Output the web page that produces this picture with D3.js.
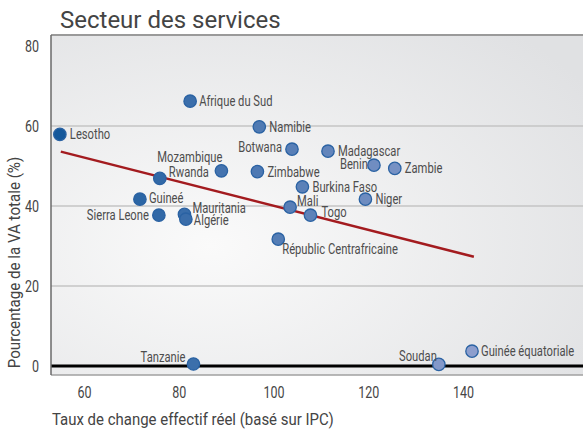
<!DOCTYPE html>
<html>
<head>
<meta charset="utf-8">
<script src="https://cdn.jsdelivr.net/npm/d3@7"></script>
<style>
  html, body { margin: 0; padding: 0; background: #fff; }
  svg { display: block; }
  text { font-family: "Roboto", "Liberation Sans", sans-serif; }
</style>
</head>
<body>
<svg id="chart" width="583" height="432"></svg>
<script>
// ---- Data ----
const countries = ["Afrique du Sud","Lesotho","Namibie","Botwana","Madagascar","Benin","Zambie",
  "Zimbabwe","Mozambique","Rwanda","Burkina Faso","Niger","Guineé","Mali","Togo","Sierra Leone",
  "Mauritania","Algérie","Républic Centrafricaine","Tanzanie","Soudan","Guinée équatoriale"];
const reer = [82.4, 54.9, 97.0, 103.9, 111.5, 121.2, 125.6, 96.6, 89.0, 76.0, 106.1, 119.4,
  71.8, 103.5, 107.8, 75.8, 81.2, 81.5, 101.0, 83.1, 134.9, 141.9];
const servicesShare = [66.2, 57.9, 59.8, 54.2, 53.7, 50.2, 49.4, 48.6, 48.8, 46.9, 44.8, 41.7,
  41.7, 39.7, 37.7, 37.7, 37.9, 36.7, 31.7, 0.5, 0.4, 3.7];
const trendX = [55.1, 142.3];
const trendY = [53.6, 27.3];
const xTicks = [60, 80, 100, 120, 140];
const yTicks = [0, 20, 40, 60, 80];
const gridValues = [20, 40, 60];

// ---- Label placement (layout only) ----
const labelPlace = {
  "Afrique du Sud": {dx: 9, dy: 0, anchor: "start"},
  "Lesotho": {dx: 10, dy: 0, anchor: "start"},
  "Namibie": {dx: 10, dy: 0, anchor: "start"},
  "Botwana": {dx: -10, dy: -2, anchor: "end"},
  "Madagascar": {dx: 10, dy: 0, anchor: "start"},
  "Benin": {dx: -6, dy: -1, anchor: "end"},
  "Zambie": {dx: 10, dy: 0, anchor: "start"},
  "Zimbabwe": {dx: 10, dy: 0, anchor: "start"},
  "Mozambique": {dx: 1, dy: -14, anchor: "end"},
  "Rwanda": {dx: 9, dy: -6, anchor: "start"},
  "Burkina Faso": {dx: 10, dy: 0, anchor: "start"},
  "Niger": {dx: 10, dy: 0, anchor: "start"},
  "Guineé": {dx: 9, dy: -1, anchor: "start"},
  "Mali": {dx: 7, dy: -6, anchor: "start"},
  "Togo": {dx: 11, dy: -3, anchor: "start"},
  "Sierra Leone": {dx: -10, dy: 0, anchor: "end"},
  "Mauritania": {dx: 8, dy: -6, anchor: "start"},
  "Algérie": {dx: 8, dy: 1, anchor: "start"},
  "Républic Centrafricaine": {dx: 4, dy: 10, anchor: "start"},
  "Tanzanie": {dx: -8, dy: -7, anchor: "end"},
  "Soudan": {dx: -2, dy: -8, anchor: "end"},
  "Guinée équatoriale": {dx: 9, dy: 0, anchor: "start"}
};

// emulate a condensed face by compressing glyphs horizontally
function condense(sel, f) {
  sel.each(function () {
    const L = this.getComputedTextLength();
    d3.select(this).attr("textLength", (L * f).toFixed(2)).attr("lengthAdjust", "spacingAndGlyphs");
  });
}

const svg = d3.select("#chart");
const plot = {left: 51, top: 35, right: 583, bottom: 375};

const x = d3.scaleLinear().domain([53.03, 165.33]).range([plot.left, plot.right]);
const y = d3.scaleLinear().domain([-2.25, 82.75]).range([plot.bottom, plot.top]);
const color = d3.scaleLinear().domain([55, 142]).range(["#15589b", "#8d9ecd"]).interpolate(d3.interpolateRgb);

// background gradient
const defs = svg.append("defs");
const grad = defs.append("radialGradient").attr("id", "bg")
  .attr("cx", "30%").attr("cy", "62%").attr("r", "85%");
grad.append("stop").attr("offset", "0%").attr("stop-color", "#fafafa");
grad.append("stop").attr("offset", "100%").attr("stop-color", "#e0e1e3");

svg.append("rect")
  .attr("x", plot.left).attr("y", plot.top)
  .attr("width", plot.right - plot.left).attr("height", plot.bottom - plot.top)
  .attr("fill", "url(#bg)");

// grid lines
svg.append("g").selectAll("line").data(gridValues).join("line")
  .attr("x1", plot.left).attr("x2", plot.right)
  .attr("y1", d => y(d)).attr("y2", d => y(d))
  .attr("stroke", "#c4c4c4").attr("stroke-width", 1.5);

// top & bottom borders
svg.append("line").attr("x1", plot.left).attr("x2", plot.right)
  .attr("y1", plot.top).attr("y2", plot.top).attr("stroke", "#9a9a9a").attr("stroke-width", 2);
svg.append("line").attr("x1", plot.left).attr("x2", plot.right)
  .attr("y1", plot.bottom).attr("y2", plot.bottom).attr("stroke", "#a0a0a0").attr("stroke-width", 1.5);

// zero line
svg.append("line").attr("x1", plot.left).attr("x2", plot.right)
  .attr("y1", y(0)).attr("y2", y(0)).attr("stroke", "#000").attr("stroke-width", 3);

// left axis line
svg.append("line").attr("x1", plot.left).attr("x2", plot.left)
  .attr("y1", plot.top).attr("y2", plot.bottom).attr("stroke", "#6a6a6a").attr("stroke-width", 1.5);

// axes (tick labels only)
const yAxis = svg.append("g").attr("transform", `translate(${plot.left},0)`)
  .call(d3.axisLeft(y).tickValues(yTicks).tickSize(0).tickPadding(12));
yAxis.select(".domain").remove();
yAxis.selectAll("text").attr("font-size", 16).attr("fill", "#454545")
  .style("font-family", '"Roboto", sans-serif');
condense(yAxis.selectAll("text"), 0.78);

const xAxis = svg.append("g").attr("transform", `translate(0,${plot.bottom})`)
  .call(d3.axisBottom(x).tickValues(xTicks).tickSize(0).tickPadding(12));
xAxis.select(".domain").remove();
xAxis.selectAll("text").attr("font-size", 16).attr("fill", "#454545")
  .style("font-family", '"Roboto", sans-serif');
condense(xAxis.selectAll("text"), 0.78);

// trend line
const trend = trendX.map((v, i) => [v, trendY[i]]);
svg.append("path").datum(trend)
  .attr("d", d3.line().x(d => x(d[0])).y(d => y(d[1])))
  .attr("fill", "none").attr("stroke", "#a31b1f").attr("stroke-width", 2.5);

// points
const pts = countries.map((c, i) => ({name: c, x: reer[i], y: servicesShare[i]}));
svg.append("g").selectAll("circle").data(pts).join("circle")
  .attr("cx", d => x(d.x)).attr("cy", d => y(d.y)).attr("r", 6.2)
  .attr("fill", d => color(d.x)).attr("stroke", "#2a62a3").attr("stroke-width", 1.3);

// labels
const labels = svg.append("g").selectAll("text").data(pts).join("text")
  .attr("x", d => x(d.x) + labelPlace[d.name].dx)
  .attr("y", d => y(d.y) + labelPlace[d.name].dy)
  .attr("dy", "0.35em")
  .attr("text-anchor", d => labelPlace[d.name].anchor)
  .attr("font-size", 14).attr("fill", "#4d4d4d")
  .text(d => d.name);
condense(labels, 0.8);

// title
svg.append("text").attr("x", 60).attr("y", 28)
  .attr("font-size", 24).attr("fill", "#444")
  .text("Secteur des services");

// axis titles
const xt = svg.append("text").attr("x", 52).attr("y", 425)
  .attr("font-size", 17).attr("fill", "#444")
  .text("Taux de change effectif réel (basé sur IPC)");
condense(xt, 0.88);

const yt = svg.append("text")
  .attr("transform", `translate(20,${(152 + 373) / 2}) rotate(-90)`)
  .attr("text-anchor", "middle")
  .attr("font-size", 17).attr("fill", "#444")
  .text("Pourcentage de la VA totale (%)");
condense(yt, 0.89);
</script>
</body>
</html>
